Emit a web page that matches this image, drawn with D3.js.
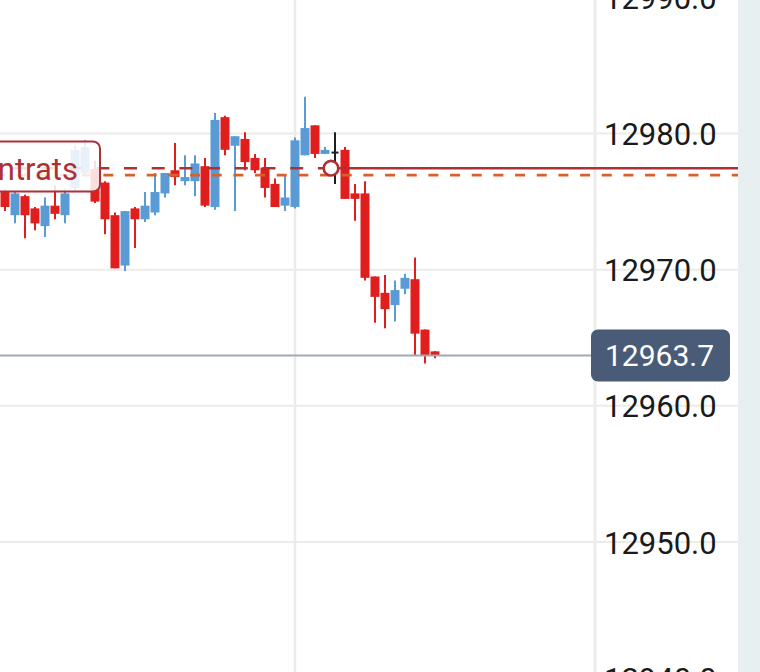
<!DOCTYPE html>
<html>
<head>
<meta charset="utf-8">
<script src="https://cdn.jsdelivr.net/npm/d3@7/dist/d3.min.js"></script>
<style>
  html, body { margin: 0; padding: 0; background: #ffffff; overflow: hidden; }
  svg { display: block; font-family: Roboto, "Noto Sans", sans-serif; }
</style>
</head>
<body>
<svg id="chart" width="760" height="672"></svg>
<script>
// ---- data ----
const candleOpen  = [12975.7,12974.0,12975.4,12974.5,12973.2,12974.7,12974.0,12976.0,12977.1,12977.4,12976.4,12974.0,12970.3,12974.5,12973.7,12974.2,12975.6,12977.3,12976.5,12976.5,12977.6,12974.6,12981.2,12979.1,12979.6,12978.2,12977.5,12976.3,12974.7,12974.6,12978.4,12980.6,12978.5,12978.6,12978.8,12975.6,12975.6,12969.5,12968.3,12967.4,12968.6,12969.3,12965.6,12964.0];
const candleHigh  = [12975.9,12975.8,12975.5,12974.6,12975.3,12976.2,12976.0,12979.1,12979.5,12978.0,12976.5,12974.2,12974.3,12974.6,12975.7,12977.1,12977.1,12979.3,12978.4,12978.4,12978.2,12981.5,12981.3,12979.8,12980.1,12978.5,12978.2,12976.7,12976.9,12979.7,12982.7,12980.6,12979.0,12980.1,12979.0,12976.3,12976.5,12969.5,12969.6,12969.2,12969.7,12970.9,12965.6,12964.0];
const candleLow   = [12974.3,12973.4,12972.3,12972.9,12972.4,12973.7,12973.4,12975.8,12976.9,12974.9,12972.6,12970.1,12969.9,12971.6,12973.5,12974.0,12975.3,12976.2,12976.2,12975.4,12974.6,12974.4,12978.4,12974.3,12977.3,12977.1,12975.3,12974.6,12974.3,12974.5,12978.4,12978.2,12978.5,12976.3,12975.2,12973.6,12969.2,12966.1,12965.7,12966.2,12968.2,12963.7,12963.1,12963.5];
const candleClose = [12974.6,12975.6,12974.0,12973.4,12974.7,12974.1,12975.6,12978.8,12979.0,12975.0,12973.7,12970.1,12974.3,12973.7,12974.7,12975.7,12977.1,12976.8,12976.8,12977.8,12974.7,12981.0,12978.8,12979.8,12977.9,12977.3,12976.0,12974.6,12975.3,12979.5,12980.4,12978.5,12978.8,12978.6,12975.2,12975.2,12969.4,12968.0,12967.1,12968.5,12969.4,12965.3,12963.7,12963.7];
const priceTicks = [12940, 12950, 12960, 12970, 12980, 12990];
const timeGridIndex = [29];
const positionLevel = 12977.45;  // position line (dark red)
const orderLevel = 12976.95;     // dashed order line (orange)
const entryIndex = 32.5;         // marker circle
const lastPrice = 12963.7;
const positionLabel = "Contrats";

// ---- layout ----
const W = 760, H = 672;
const plotRight = 738;
const axisX = 595;
const svg = d3.select("#chart");

const y = d3.scaleLinear().domain([12950, 12980]).range([542, 133.5]);
const x = d3.scaleLinear().domain([0, candleOpen.length - 1]).range([5, 5 + 10 * (candleOpen.length - 1)]);
const fmt = d3.format(".1f");

const RED = "#e01e1e", BLUE = "#5b9bd5", DOJI = "#1e1e1e";
const LINE_RED = "#ac3034", ORANGE = "#d8602c";

// right strip
svg.append("rect").attr("x", plotRight).attr("y", 0).attr("width", W - plotRight).attr("height", H).attr("fill", "#e7eff1");

// gridlines
svg.append("g").selectAll("line").data(priceTicks).join("line")
  .attr("x1", 0).attr("x2", plotRight)
  .attr("y1", d => y(d)).attr("y2", d => y(d))
  .attr("stroke", "#ebebeb").attr("stroke-width", 2);
svg.append("g").selectAll("line").data(timeGridIndex).join("line")
  .attr("x1", d => x(d)).attr("x2", d => x(d))
  .attr("y1", 0).attr("y2", H)
  .attr("stroke", "#ebebeb").attr("stroke-width", 2.5);
svg.append("line").attr("x1", axisX).attr("x2", axisX).attr("y1", 0).attr("y2", H)
  .attr("stroke", "#ececec").attr("stroke-width", 3);

// candles
const candles = candleOpen.map((o, i) => ({ i, o, h: candleHigh[i], l: candleLow[i], c: candleClose[i] }));
const col = d => d.c > d.o ? BLUE : (d.c < d.o ? RED : DOJI);
const cg = svg.append("g");
cg.selectAll("line.wick").data(candles).join("line").attr("class", "wick")
  .attr("x1", d => x(d.i)).attr("x2", d => x(d.i))
  .attr("y1", d => y(d.h)).attr("y2", d => y(d.l))
  .attr("stroke", col).attr("stroke-width", 2);
cg.selectAll("rect.body").data(candles).join("rect").attr("class", "body")
  .attr("y", d => Math.min(y(d.o), y(d.c)) - (d.o === d.c ? 1 : 0))
  .attr("height", d => Math.max(2, Math.abs(y(d.o) - y(d.c))))
  .attr("width", d => d.o === d.c ? 7 : 9)
  .attr("x", d => x(d.i) - (d.o === d.c ? 3.5 : 4.5))
  .attr("fill", col);

// last price line
svg.append("line").attr("x1", 0).attr("x2", 591).attr("y1", y(lastPrice)).attr("y2", y(lastPrice))
  .attr("stroke", "#a2aab2").attr("stroke-width", 2);

// order line (orange dashed)
svg.append("line").attr("x1", 0).attr("x2", plotRight).attr("y1", y(orderLevel)).attr("y2", y(orderLevel))
  .attr("stroke", ORANGE).attr("stroke-width", 2.8)
  .attr("stroke-dasharray", "10,11.67").attr("stroke-dashoffset", 5);

// position line: dashed before entry, solid after
const cx = x(entryIndex) + 1;
svg.append("line").attr("x1", 0).attr("x2", cx).attr("y1", y(positionLevel)).attr("y2", y(positionLevel))
  .attr("stroke", LINE_RED).attr("stroke-width", 2.6)
  .attr("stroke-dasharray", "13,14.7").attr("stroke-dashoffset", 14.5);
svg.append("line").attr("x1", cx).attr("x2", plotRight).attr("y1", y(positionLevel)).attr("y2", y(positionLevel))
  .attr("stroke", LINE_RED).attr("stroke-width", 2.6);

// position label box
const lbl = svg.append("g");
lbl.append("rect").attr("x", -60).attr("y", 141.5).attr("width", 160).attr("height", 50).attr("rx", 7)
  .attr("fill", "#ffffff").attr("fill-opacity", 0.86)
  .attr("stroke", LINE_RED).attr("stroke-width", 2);
lbl.append("text").attr("x", 78).attr("y", 180).attr("text-anchor", "end")
  .attr("font-size", 31).attr("fill", LINE_RED).text(positionLabel);

// entry marker
svg.append("circle").attr("cx", cx).attr("cy", y(positionLevel)).attr("r", 7.3)
  .attr("fill", "#ffffff").attr("stroke", LINE_RED).attr("stroke-width", 2.6);

// price axis labels
const axis = d3.axisRight(y).tickValues(priceTicks).tickFormat(fmt).tickSize(0).tickPadding(0);
const ag = svg.append("g").attr("transform", `translate(604,0)`).call(axis);
ag.select(".domain").remove();
ag.selectAll("text").attr("font-size", 31).attr("fill", "#1a1a1a")
  .attr("font-family", "Roboto, 'Noto Sans', sans-serif").attr("dy", "0.355em");

// last price tag
const tag = svg.append("g");
tag.append("rect").attr("x", 591).attr("y", y(lastPrice) - 26).attr("width", 139).attr("height", 52).attr("rx", 7)
  .attr("fill", "#4a5b78");
tag.append("text").attr("x", 605).attr("y", y(lastPrice)).attr("dy", "0.355em")
  .attr("font-size", 30).attr("fill", "#ffffff").text(fmt(lastPrice));
</script>
</body>
</html>
